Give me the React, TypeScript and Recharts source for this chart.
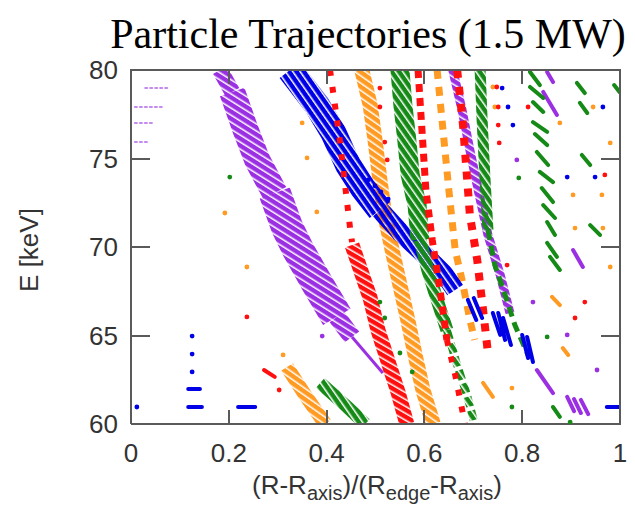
import { ComposedChart, Line, Scatter, XAxis, YAxis } from "recharts"

type Pt = [number, number]
type Seg = [number, number, number, number]

const xDomain = [0, 1]
const yDomain = [60, 80]
const xTicks = [0, 0.2, 0.4, 0.6, 0.8, 1]
const yTicks = [60, 65, 70, 75, 80]
const xInnerTicks = [0.2, 0.4, 0.6, 0.8]
const yInnerTicks = [65, 70, 75]

// purple
const purpleBandTop: Pt[] = [[0.182, 80], [0.207, 78.76]]
const purpleBandUpper: Pt[] = [[0.207, 78.76], [0.233, 76.72], [0.258, 74.92], [0.294, 73.05]]
const purpleBandLower: Pt[] = [[0.294, 73.05], [0.319, 71.13], [0.342, 69.83], [0.38, 67.97], [0.421, 66.05]]
const purpleBandTip: Pt[] = [[0.421, 66.05], [0.452, 64.92]]
const purpleTail: Pt[] = [[0.452, 64.92], [0.515, 62.88]]
const purpleLine: Pt[] = [[0.658, 80], [0.677, 77.74], [0.693, 75.48], [0.71, 73.22], [0.73, 70.68], [0.755, 68.42], [0.775, 66.27]]
const purpleDashes: Seg[] = [
  [0.83, 63.05, 0.863, 61.75],
  [0.892, 61.53, 0.906, 60.73],
  [0.906, 61.41, 0.92, 60.62],
  [0.92, 61.36, 0.935, 60.56],
  [0.904, 69.83, 0.924, 68.87],
  [0.851, 79.89, 0.863, 79.32],
  [0.843, 78.76, 0.871, 77.46],
]
const purpleRows: Seg[] = [
  [0.029, 78.98, 0.076, 78.98],
  [0.008, 77.91, 0.063, 77.91],
  [0.008, 77.01, 0.045, 77.01],
  [0.008, 75.93, 0.035, 75.93],
]
const purpleDots: Pt[] = [[0.822, 66.89], [0.892, 65.03], [0.953, 63.05], [0.391, 64.97], [0.789, 74.92]]

// blue
const blueBandUpper: Pt[] = [[0.325, 80], [0.38, 78.02], [0.413, 76.5], [0.444, 74.63], [0.474, 73.33], [0.509, 72.09]]
const blueBandLower: Pt[] = [[0.509, 72.09], [0.55, 70.85], [0.601, 69.55], [0.642, 68.42], [0.663, 67.57]]
const blueDashes: Seg[] = [
  [0.689, 67.01, 0.706, 65.88],
  [0.701, 67.12, 0.718, 65.99],
  [0.74, 66.27, 0.755, 65.03],
  [0.751, 66.27, 0.765, 64.75],
  [0.761, 65.99, 0.777, 64.46],
  [0.8, 65.03, 0.812, 63.73],
  [0.81, 64.92, 0.822, 63.5],
  [0.117, 61.98, 0.141, 61.98],
  [0.117, 60.96, 0.145, 60.96],
  [0.219, 60.96, 0.254, 60.96],
  [0.973, 60.96, 0.998, 60.96],
]
const blueDots: Pt[] = [
  [0.485, 73.79], [0.499, 73.45], [0.511, 73.11], [0.526, 72.71],
  [0.125, 64.97], [0.125, 63.95], [0.125, 62.94], [0.012, 60.96],
  [0.759, 78.98], [0.771, 77.91], [0.781, 76.89], [0.965, 77.91], [0.949, 73.95], [0.892, 73.95],
]

// red
const redDotted: Pt[] = [[0.407, 80], [0.427, 76.05], [0.448, 71.07], [0.452, 70.28]]
const redZigzag: Pt[] = [[0.452, 70.11], [0.464, 69.15], [0.489, 67.12], [0.505, 65.31], [0.526, 63.5], [0.546, 61.81], [0.564, 60]]
const redGreenEdge: Pt[] = [[0.587, 80], [0.595, 76.61], [0.603, 73.22], [0.616, 70.4], [0.632, 67.57], [0.646, 64.75]]
const redGreenTail: Pt[] = [[0.646, 64.75], [0.663, 62.77], [0.683, 60]]
const redColumn: Pt[] = [[0.667, 80], [0.679, 76.89], [0.693, 71.81], [0.708, 69.27], [0.72, 66.44], [0.73, 64.01]]
const redDashes: Seg[] = [[0.272, 63.05, 0.294, 62.66]]
const redDots: Pt[] = [
  [0.748, 79.04], [0.751, 77.91], [0.751, 76.89], [0.753, 75.88], [0.812, 77.91], [0.969, 74.07],
  [0.769, 68.98], [0.908, 65.99], [0.928, 66.89], [0.237, 66.05], [0.303, 61.92],
  [0.509, 78.98], [0.509, 77.91], [0.519, 75.93], [0.524, 74.92],
]

// orange
const orangeBand: Pt[] = [[0.472, 80], [0.489, 78.02], [0.499, 76.05], [0.509, 73.79], [0.519, 71.81], [0.534, 69.83], [0.55, 67.85], [0.566, 65.88], [0.581, 63.9], [0.597, 61.92], [0.618, 60]]
const orangeColumn: Pt[] = [[0.626, 80], [0.638, 76.61], [0.65, 73.22], [0.663, 69.83], [0.677, 68.14], [0.693, 65.88], [0.703, 64.75]]
const orangeLow: Pt[] = [[0.319, 63.22], [0.356, 61.64], [0.397, 60]]
const orangeDashes: Seg[] = [
  [0.72, 62.32, 0.74, 61.53],
  [0.861, 67.18, 0.877, 66.72],
  [0.883, 64.29, 0.894, 63.9],
]
const orangeDots: Pt[] = [
  [0.35, 77.01], [0.36, 75.03], [0.192, 71.92], [0.38, 71.98], [0.237, 68.87], [0.311, 63.9],
  [0.74, 79.04], [0.744, 77.91], [0.877, 77.01], [0.945, 77.91], [0.98, 75.88],
  [0.904, 72.94], [0.963, 72.94], [0.908, 71.07], [0.965, 71.07], [0.98, 68.87], [0.779, 62.03],
]

// green
const greenBandUpper: Pt[] = [[0.55, 80], [0.556, 78.02], [0.564, 76.05], [0.571, 74.07], [0.585, 72.37], [0.591, 70.4]]
const greenBandMid: Pt[] = [[0.591, 70.4], [0.607, 68.7], [0.626, 67.01], [0.646, 65.31]]
const greenBandLow: Pt[] = [[0.646, 65.31], [0.667, 63.33], [0.687, 61.64], [0.703, 60]]
const greenColumn: Pt[] = [[0.714, 80], [0.718, 77.18], [0.724, 73.79], [0.73, 70.96]]
const greenColumnTail: Pt[] = [[0.73, 70.96], [0.744, 68.98], [0.765, 67.29], [0.785, 65.59], [0.812, 63.9]]
const greenLow: Pt[] = [[0.387, 62.32], [0.438, 61.07], [0.479, 60]]
const greenDashes: Seg[] = [
  [0.816, 79.89, 0.836, 79.15],
  [0.816, 79.04, 0.843, 78.42],
  [0.822, 78.19, 0.843, 77.63],
  [0.822, 77.06, 0.851, 76.5],
  [0.826, 76.38, 0.851, 75.76],
  [0.83, 75.37, 0.853, 74.63],
  [0.836, 74.24, 0.863, 73.67],
  [0.84, 73.33, 0.863, 72.54],
  [0.843, 72.37, 0.867, 71.64],
  [0.851, 71.41, 0.867, 70.68],
  [0.851, 70.23, 0.871, 69.44],
  [0.857, 69.44, 0.877, 68.7],
  [0.863, 60.96, 0.877, 60.4],
  [0.912, 79.27, 0.928, 78.7],
  [0.918, 78.14, 0.933, 77.57],
  [0.922, 75.2, 0.939, 74.63],
  [0.939, 71.24, 0.959, 70.68],
  [0.988, 79.15, 0.999, 78.76],
]
const greenDots: Pt[] = [
  [0.509, 66.89], [0.519, 65.99], [0.55, 64.01], [0.575, 62.94], [0.202, 73.95],
  [0.779, 60.96], [0.851, 64.92], [0.898, 60.11], [0.793, 73.9],
]

const PURPLE = "#9b30e3"
const BLUE = "#0000e6"
const RED = "#ff1010"
const ORANGE = "#ff9a22"
const GREEN = "#168a16"
const FRAME = "#5a5a5a"
const TEXT = "#333"

// chart box: the plot area follows from these margins and axis sizes
const W = 635
const H = 514
const MARGIN = { top: 70, right: 15, bottom: 50, left: 0 }
const Y_AXIS_W = 131
const X_AXIS_H = 40
const plot = {
  left: MARGIN.left + Y_AXIS_W,
  top: MARGIN.top,
  right: W - MARGIN.right,
  bottom: H - MARGIN.bottom - X_AXIS_H,
}

// hatch patterns so the dense bands look like piles of short strokes
const hatches = [
  { id: "h-purple", color: PURPLE, angle: 32 },
  { id: "h-blue", color: BLUE, angle: 55 },
  { id: "h-red", color: RED, angle: 30 },
  { id: "h-orange", color: ORANGE, angle: 35 },
  { id: "h-green", color: GREEN, angle: 55 },
]

const bands = [
  { pts: purpleBandTop, color: "url(#h-purple)", w: 16, dash: undefined },
  { pts: purpleBandUpper, color: "url(#h-purple)", w: 26, dash: undefined },
  { pts: purpleBandLower, color: "url(#h-purple)", w: 32, dash: undefined },
  { pts: purpleBandTip, color: "url(#h-purple)", w: 18, dash: undefined },
  { pts: purpleTail, color: PURPLE, w: 3, dash: undefined },
  { pts: purpleLine, color: "url(#h-purple)", w: 9, dash: undefined },
  { pts: orangeBand, color: "url(#h-orange)", w: 15, dash: undefined },
  { pts: orangeColumn, color: ORANGE, w: 7, dash: "9 8" },
  { pts: orangeLow, color: "url(#h-orange)", w: 14, dash: undefined },
  { pts: blueBandUpper, color: "url(#h-blue)", w: 26, dash: undefined },
  { pts: blueBandLower, color: "url(#h-blue)", w: 19, dash: undefined },
  { pts: greenBandUpper, color: "url(#h-green)", w: 19, dash: undefined },
  { pts: greenBandMid, color: "url(#h-green)", w: 13, dash: undefined },
  { pts: greenBandLow, color: "url(#h-green)", w: 8, dash: "10 4" },
  { pts: greenColumn, color: "url(#h-green)", w: 11, dash: undefined },
  { pts: greenColumnTail, color: GREEN, w: 5, dash: "10 6" },
  { pts: greenLow, color: "url(#h-green)", w: 13, dash: undefined },
  { pts: redDotted, color: RED, w: 6, dash: "6 11" },
  { pts: redZigzag, color: "url(#h-red)", w: 15, dash: undefined },
  { pts: redGreenEdge, color: RED, w: 7, dash: "8 6" },
  { pts: redGreenTail, color: RED, w: 6, dash: "6 11" },
  { pts: redColumn, color: RED, w: 8, dash: "8 9" },
]

const dashGroups = [
  { segs: purpleRows, color: "#c58af0", w: 2, dash: "2 3" },
  { segs: purpleDashes, color: PURPLE, w: 4, dash: undefined },
  { segs: orangeDashes, color: ORANGE, w: 4, dash: undefined },
  { segs: blueDashes, color: BLUE, w: 4, dash: undefined },
  { segs: greenDashes, color: GREEN, w: 4, dash: undefined },
  { segs: redDashes, color: RED, w: 4, dash: undefined },
]

const dotGroups = [
  { pts: purpleDots, color: PURPLE },
  { pts: orangeDots, color: ORANGE },
  { pts: blueDots, color: BLUE },
  { pts: greenDots, color: GREEN },
  { pts: redDots, color: RED },
]

const toXY = (pts: Pt[]) => pts.map(([x, y]) => ({ x, y }))
const segsToXY = (segs: Seg[]) =>
  segs.flatMap(([x1, y1, x2, y2]) => [
    { x: x1, y: y1 },
    { x: x2, y: y2 },
    { x: x2, y: null },
  ])

// frame decoration (plain html boxes): top/right edges and inward ticks on every side
const fx = (v: number) => plot.left + ((v - xDomain[0]) / (xDomain[1] - xDomain[0])) * (plot.right - plot.left)
const fy = (v: number) => plot.bottom - ((v - yDomain[0]) / (yDomain[1] - yDomain[0])) * (plot.bottom - plot.top)

const box = (left: number, top: number, width: number, height: number) => ({
  position: "absolute" as const,
  left,
  top,
  width,
  height,
  background: FRAME,
})

function Frame() {
  const pieces = [
    box(plot.left - 1, plot.top - 1, plot.right - plot.left + 2, 2),
    box(plot.right - 1, plot.top - 1, 2, plot.bottom - plot.top + 2),
    ...xInnerTicks.map((t) => box(fx(t) - 1, plot.bottom - 14, 2, 14)),
    ...xInnerTicks.map((t) => box(fx(t) - 1, plot.top, 2, 14)),
    ...yInnerTicks.map((t) => box(plot.left, fy(t) - 1, 19, 2)),
    ...yInnerTicks.map((t) => box(plot.right - 19, fy(t) - 1, 19, 2)),
  ]
  return (
    <div style={{ position: "absolute", left: 0, top: 0, width: W, height: H, pointerEvents: "none", zIndex: 5 }}>
      {pieces.map((s, i) => (
        <div key={i} style={s} />
      ))}
    </div>
  )
}

const tickFont = { fill: TEXT, fontSize: 26, fontFamily: "Liberation Sans, Arial, sans-serif" }
const frameLine = { stroke: FRAME, strokeWidth: 2 }

export default function App() {
  return (
    <div style={{ position: "absolute", left: 0, top: 0, width: W, height: H, background: "#fff" }}>
      <svg width={0} height={0} style={{ position: "absolute" }}>
        <defs>
          {hatches.map((h) => (
            <pattern
              key={h.id}
              id={h.id}
              patternUnits="userSpaceOnUse"
              width={6}
              height={6}
              patternTransform={`rotate(${h.angle})`}
            >
              <rect x={0} y={0} width={6} height={4.5} fill={h.color} />
            </pattern>
          ))}
        </defs>
      </svg>
      <div
        style={{
          position: "absolute",
          left: 0,
          width: 736,
          top: 13,
          textAlign: "center",
          fontFamily: "Liberation Serif, Times New Roman, serif",
          fontSize: 42,
          lineHeight: "42px",
          color: "#000",
          whiteSpace: "nowrap",
        }}
      >
        Particle Trajectories (1.5 MW)
      </div>
      <ComposedChart width={W} height={H} margin={MARGIN}>
        <XAxis
          dataKey="x"
          type="number"
          domain={xDomain}
          ticks={xTicks}
          interval={0}
          allowDataOverflow
          tickFormatter={(v: number) => String(v)}
          tick={tickFont}
          tickLine={false}
          tickSize={0}
          tickMargin={20}
          height={X_AXIS_H}
          axisLine={frameLine}
        />
        <YAxis
          dataKey="y"
          type="number"
          domain={yDomain}
          ticks={yTicks}
          interval={0}
          allowDataOverflow
          tick={tickFont}
          tickLine={false}
          tickSize={0}
          tickMargin={13}
          width={Y_AXIS_W}
          axisLine={frameLine}
        />
        {bands.map((b, i) => (
          <Line
            key={`band-${i}`}
            data={toXY(b.pts)}
            dataKey="y"
            type="linear"
            stroke={b.color}
            strokeWidth={b.w}
            strokeDasharray={b.dash}
            strokeLinecap="butt"
            strokeLinejoin="round"
            dot={false}
            activeDot={false}
            isAnimationActive={false}
          />
        ))}
        {dashGroups.map((g, i) => (
          <Line
            key={`dash-${i}`}
            data={segsToXY(g.segs)}
            dataKey="y"
            type="linear"
            stroke={g.color}
            strokeWidth={g.w}
            strokeDasharray={g.dash}
            strokeLinecap="round"
            connectNulls={false}
            dot={false}
            activeDot={false}
            isAnimationActive={false}
          />
        ))}
        {dotGroups.map((g, i) => (
          <Scatter
            key={`dot-${i}`}
            data={toXY(g.pts)}
            fill={g.color}
            shape={(p: any) => <circle cx={p.cx} cy={p.cy} r={2.4} fill={g.color} />}
            isAnimationActive={false}
          />
        ))}
      </ComposedChart>
      <Frame />
      <div
        style={{
          position: "absolute",
          left: 29,
          top: 250,
          transform: "translate(-50%, -50%) rotate(-90deg)",
          fontFamily: "Liberation Sans, Arial, sans-serif",
          fontSize: 26,
          color: TEXT,
          whiteSpace: "nowrap",
        }}
      >
        E [keV]
      </div>
      <div
        style={{
          position: "absolute",
          left: 377,
          top: 470,
          transform: "translateX(-50%)",
          fontFamily: "Liberation Sans, Arial, sans-serif",
          fontSize: 26,
          lineHeight: "30px",
          color: TEXT,
          whiteSpace: "nowrap",
        }}
      >
        (R-R<sub style={{ fontSize: 20 }}>axis</sub>)/(R<sub style={{ fontSize: 20 }}>edge</sub>-R
        <sub style={{ fontSize: 20 }}>axis</sub>)
      </div>
    </div>
  )
}
